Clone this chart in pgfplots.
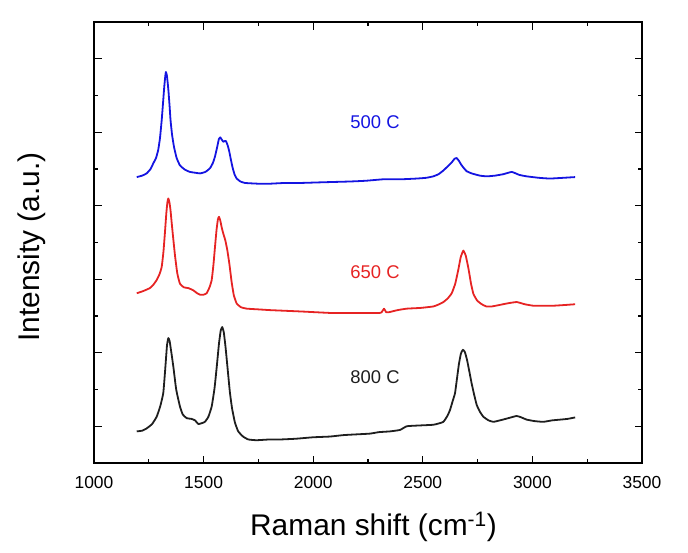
\documentclass[border=0pt]{standalone}
\usepackage{pgfplots}
\pgfplotsset{compat=1.18}
\usepackage{fontspec}
\setmainfont{Liberation Sans}
\definecolor{cblue}{RGB}{20,20,225}
\definecolor{cred}{RGB}{230,35,35}
\definecolor{cblack}{RGB}{30,30,30}
\begin{document}
\begin{tikzpicture}
\path[use as bounding box] (-94bp,-90bp) rectangle (594bp,463bp);
\begin{axis}[
  at={(0,0)}, anchor=south west,
  width=548bp, height=441bp, scale only axis,
  xmin=1000, xmax=3500, ymin=0, ymax=6,
  xtick={1000,1500,2000,2500,3000,3500},
  minor x tick num=1,
  ytick={0.5,1.5,2.5,3.5,4.5,5.5},
  minor ytick={1,2,3,4,5},
  yticklabels={},
  tick align=inside,
  major tick length=7.5bp, minor tick length=4bp,
  axis line style={line width=1.6bp},
  every tick/.style={black, line width=1.3bp},
  /pgf/number format/assume math mode=true,
  /pgf/number format/1000 sep={},
  xticklabel style={font=\fontsize{17.5}{20}\selectfont, yshift=-10bp},
  clip=false,
  every axis plot/.append style={line width=1.8bp, line join=round, smooth, tension=0.25},
]
\addplot[cblack] coordinates {
(1195,0.43)(1220,0.44)(1240,0.47)(1265,0.53)(1286,0.63)(1302,0.77)(1316,0.95)(1325,1.28)(1333,1.60)(1339,1.70)(1345,1.66)(1353,1.50)(1362,1.31)(1375,1.00)(1392,0.77)(1405,0.66)(1423,0.61)(1445,0.60)(1461,0.58)(1476,0.53)(1490,0.54)(1506,0.56)(1522,0.63)(1537,0.77)(1550,1.02)(1560,1.31)(1570,1.62)(1578,1.80)(1585,1.85)(1592,1.78)(1600,1.58)(1610,1.27)(1620,0.96)(1630,0.74)(1643,0.55)(1658,0.43)(1680,0.36)(1704,0.32)(1742,0.31)(1800,0.32)(1849,0.32)(1920,0.33)(2000,0.35)(2077,0.36)(2140,0.38)(2200,0.39)(2260,0.40)(2300,0.42)(2350,0.43)(2396,0.45)(2427,0.50)(2480,0.51)(2548,0.52)(2575,0.54)(2594,0.56)(2612,0.64)(2624,0.72)(2637,0.85)(2647,0.95)(2656,1.15)(2665,1.35)(2674,1.49)(2683,1.54)(2692,1.51)(2702,1.40)(2712,1.25)(2723,1.08)(2735,0.92)(2746,0.79)(2760,0.70)(2776,0.63)(2800,0.58)(2822,0.56)(2852,0.58)(2890,0.61)(2928,0.64)(2950,0.62)(2974,0.59)(3010,0.57)(3050,0.56)(3090,0.58)(3126,0.59)(3160,0.60)(3195,0.62)
};
\addplot[cred] coordinates {
(1195,2.31)(1225,2.34)(1255,2.38)(1272,2.43)(1286,2.49)(1299,2.57)(1309,2.67)(1317,2.88)(1324,3.15)(1330,3.40)(1335,3.55)(1339,3.60)(1344,3.55)(1349,3.44)(1355,3.25)(1362,3.04)(1370,2.81)(1380,2.58)(1392,2.44)(1410,2.39)(1430,2.38)(1453,2.35)(1470,2.31)(1484,2.29)(1500,2.29)(1514,2.31)(1527,2.39)(1537,2.49)(1545,2.70)(1552,2.94)(1559,3.17)(1565,3.31)(1570,3.35)(1576,3.30)(1583,3.20)(1590,3.12)(1599,3.03)(1608,2.90)(1618,2.70)(1628,2.46)(1638,2.28)(1651,2.17)(1670,2.12)(1697,2.10)(1750,2.09)(1803,2.08)(1880,2.07)(1955,2.06)(2020,2.05)(2092,2.04)(2200,2.04)(2297,2.04)(2312,2.05)(2323,2.10)(2333,2.05)(2343,2.05)(2385,2.08)(2427,2.10)(2490,2.11)(2548,2.13)(2575,2.16)(2594,2.19)(2614,2.24)(2632,2.31)(2648,2.44)(2662,2.63)(2673,2.80)(2685,2.89)(2696,2.82)(2708,2.65)(2720,2.44)(2731,2.30)(2748,2.21)(2769,2.16)(2790,2.13)(2815,2.13)(2850,2.15)(2883,2.17)(2928,2.19)(2965,2.16)(3004,2.14)(3050,2.14)(3096,2.14)(3150,2.15)(3195,2.16)
};
\addplot[cblue] coordinates {
(1195,3.89)(1220,3.91)(1240,3.94)(1258,4.00)(1271,4.08)(1283,4.15)(1293,4.26)(1301,4.42)(1309,4.67)(1315,4.90)(1320,5.10)(1325,5.26)(1328,5.32)(1332,5.28)(1336,5.18)(1340,5.05)(1345,4.85)(1349,4.67)(1356,4.47)(1365,4.30)(1377,4.15)(1392,4.05)(1415,3.99)(1438,3.96)(1460,3.95)(1484,3.94)(1508,3.96)(1529,4.01)(1542,4.08)(1552,4.17)(1562,4.30)(1570,4.41)(1576,4.43)(1583,4.40)(1590,4.37)(1596,4.38)(1602,4.38)(1610,4.32)(1617,4.24)(1625,4.12)(1633,4.01)(1642,3.92)(1651,3.87)(1668,3.83)(1689,3.81)(1750,3.80)(1803,3.80)(1870,3.81)(1940,3.81)(2050,3.82)(2168,3.83)(2240,3.84)(2320,3.86)(2400,3.86)(2472,3.87)(2515,3.88)(2548,3.90)(2572,3.93)(2594,3.98)(2615,4.04)(2632,4.09)(2645,4.14)(2654,4.15)(2665,4.11)(2675,4.06)(2685,4.02)(2700,3.97)(2723,3.94)(2760,3.91)(2792,3.90)(2830,3.91)(2868,3.93)(2906,3.96)(2940,3.92)(2974,3.90)(3030,3.88)(3080,3.87)(3140,3.88)(3195,3.89)
};
\node[text=cblue, font=\fontsize{18.5}{20}\selectfont] at (axis cs:2282,4.64) {500 C};
\node[text=cred, font=\fontsize{18.5}{20}\selectfont] at (axis cs:2282,2.60) {650 C};
\node[text=cblack, font=\fontsize{18.5}{20}\selectfont] at (axis cs:2282,1.17) {800 C};
\node[font=\fontsize{30}{34}\selectfont] at ([yshift=-64bp]axis description cs:0.51,0) {Raman shift (cm\textsuperscript{-1})};
\node[font=\fontsize{30}{34}\selectfont, rotate=90] at ([xshift=-62bp]axis description cs:0,0.49) {Intensity (a.u.)};
\end{axis}
\end{tikzpicture}
\end{document}
